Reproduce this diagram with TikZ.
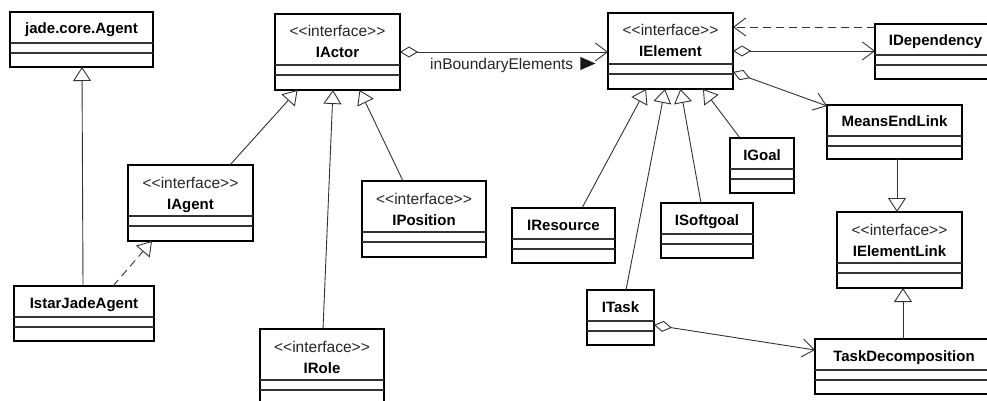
\documentclass[tikz,border=0pt]{standalone}
\usepackage{fontspec}
\setmainfont{Liberation Sans}
\usetikzlibrary{arrows.meta,calc}
\tikzset{
 clsbox/.style={draw=black, line width=2pt, rectangle, inner sep=0pt, outer sep=0pt, fill=white},
 divline/.style={draw=black!80, line width=1.2pt},
 clsname/.style={font=\fontsize{15}{18}\selectfont\bfseries, inner sep=0pt},
 stereo/.style={font=\fontsize{15.5}{18}\selectfont, text=black!85, inner sep=0pt},
 conn/.style={draw=black!80, line width=0.9pt},
 gen/.style={conn, -{Triangle[length=14pt,width=18pt,fill=white]}},
 real/.style={gen, dash pattern=on 8pt off 5pt},
 assoc/.style={conn, {Diamond[length=18pt,width=11pt,fill=white]}-{Straight Barb[length=12pt,width=18pt]}},
 dep/.style={conn, dash pattern=on 8pt off 5pt, -{Straight Barb[length=12pt,width=18pt]}},
 lbl/.style={font=\fontsize{15.5}{18}\selectfont, text=black!85, inner sep=0pt},
}
\newcommand{\umlsimple}[6]{%
  \node[clsbox, minimum width={(#4-#2)*1pt}, minimum height={(#5-#3)*1pt}] (#1) at ({(#2+#4)/2},{(#3+#5)/2}) {};
  \draw[divline] ($(#1.north west)+(0,31)$) -- ($(#1.north east)+(0,31)$);
  \draw[divline] ($(#1.north west)+(0,41)$) -- ($(#1.north east)+(0,41)$);
  \node[clsname, anchor=base] (#1-name) at ($(#1.north)+(0,22)$) {#6};
}
\newcommand{\umliface}[6]{%
  \node[clsbox, minimum width={(#4-#2)*1pt}, minimum height={(#5-#3)*1pt}] (#1) at ({(#2+#4)/2},{(#3+#5)/2}) {};
  \draw[divline] ($(#1.north west)+(0,51)$) -- ($(#1.north east)+(0,51)$);
  \draw[divline] ($(#1.north west)+(0,61)$) -- ($(#1.north east)+(0,61)$);
  \node[stereo, anchor=base] (#1-st) at ($(#1.north)+(0,23)$) {<\kern0pt<interface>\kern0pt>};
  \node[clsname, anchor=base] (#1-name) at ($(#1.north)+(0,44)$) {#6};
}
\begin{document}
\begin{tikzpicture}[x=1pt,y=-1pt]
\useasboundingbox (0,0) rectangle (987,401);
\fill[white] (0,0) rectangle (987,401);
\clip (0,0) rectangle (987,401);

\umlsimple{jade}{10}{12}{153}{67}{jade.core.Agent}
\umliface{iactor}{275}{14}{400}{90}{IActor}
\umliface{ielement}{608}{13}{733}{89}{IElement}
\umlsimple{idep}{875}{24}{996}{79}{IDependency}
\umlsimple{meansend}{827}{105}{962}{159}{MeansEndLink}
\umliface{ielink}{837}{212}{962}{288}{IElementLink}
\umlsimple{taskdec}{815}{339}{993}{394}{TaskDecomposition}
\umlsimple{igoal}{730}{138}{794}{193}{IGoal}
\umlsimple{iresource}{512}{208}{615}{263}{IResource}
\umlsimple{isoftgoal}{661}{203}{753}{258}{ISoftgoal}
\umlsimple{itask}{587}{290}{654}{345}{ITask}
\umliface{iagent}{128}{165}{253}{241}{IAgent}
\umlsimple{istar}{14}{286}{154}{341}{IstarJadeAgent}
\umliface{iposition}{362}{181}{486}{257}{IPosition}
\umliface{irole}{260}{329}{384}{405}{IRole}

\draw[gen] ($(istar.north)+(-1,0)$) -- ($(jade.south)+(0.5,0)$);
\draw[real] ($(istar.north)+(29,0)$) -- ($(iagent.south)+(-38.5,0)$);
\draw[gen] ($(iagent.north)+(39.5,0)$) -- ($(iactor.south)+(-40,0)$);
\draw[gen] ($(irole.north)+(1,0)$) -- ($(iactor.south)+(-4.5,0)$);
\draw[gen] ($(iposition.north)+(-21,0)$) -- ($(iactor.south)+(22,0)$);
\draw[assoc] (iactor.east) -- (iactor.east -| ielement.west);
\draw[assoc] (ielement.east) -- (ielement.east -| idep.west);
\draw[dep] ($(idep.north west)+(0,3)$) -- ($(ielement.north east)+(0,14)$);
\draw[assoc] ($(ielement.north east)+(0,59)$) -- ($(meansend.north west)+(0,1)$);
\draw[gen] ($(iresource.north)+(18.5,0)$) -- ($(ielement.south)+(-24.5,0)$);
\draw[gen] ($(itask.north)+(5.5,0)$) -- ($(ielement.south)+(-5.5,0)$);
\draw[gen] ($(isoftgoal.north)+(-6,0)$) -- ($(ielement.south)+(10,0)$);
\draw[gen] ($(igoal.north)+(-22,0)$) -- ($(ielement.south)+(32.5,0)$);
\draw[gen] ($(meansend.south)+(2.5,0)$) -- ($(ielink.north)+(-2.5,0)$);
\draw[gen] ($(taskdec.north)+(-1,0)$) -- ($(ielink.south)+(3.5,0)$);
\draw[assoc] ($(itask.north east)+(0,35)$) -- ($(taskdec.north west)+(0,11)$);

\node[lbl, anchor=base west] (lblib) at ($(iactor.east)+(30,18)$) {inBoundaryElements};
\fill[black!90] ($(lblib.base east)+(7,-13)$) -- ++(15,6.5) -- ++(-15,6.5) -- cycle;
\end{tikzpicture}
\end{document}
